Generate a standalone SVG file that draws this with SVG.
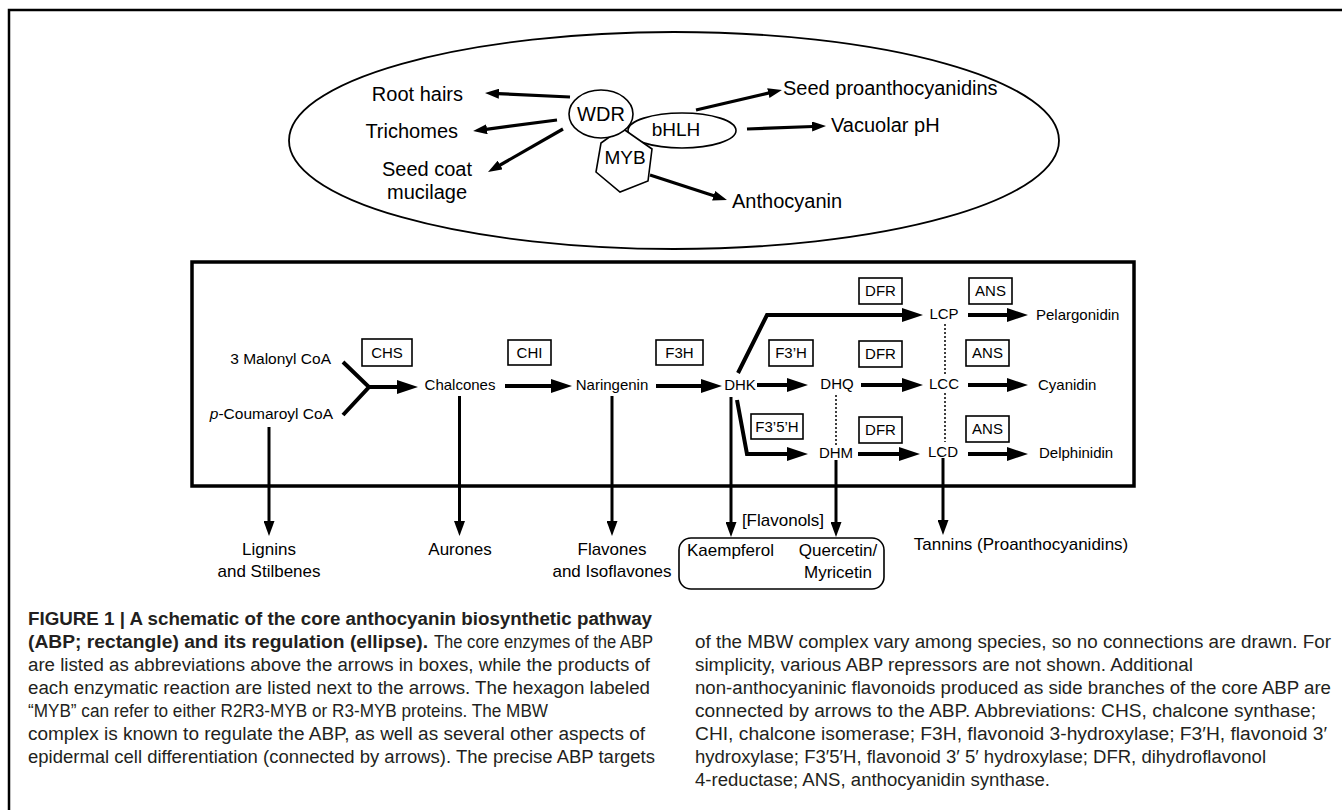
<svg xmlns="http://www.w3.org/2000/svg" width="1342" height="810" viewBox="0 0 1342 810">
<defs>
<style>
.t{font-family:"Liberation Sans",Arial,Helvetica,sans-serif;fill:#000}
.e{font-size:20px}
.p{font-size:15px}
.b{font-size:17px}
.enz{fill:none;stroke:#000;stroke-width:1.6}
.node{fill:#fff;stroke:#000;stroke-width:1.6}
.a3{fill:none;stroke:#000;stroke-width:3.2}
.a4{fill:none;stroke:#000;stroke-width:4}
.av{fill:none;stroke:#000;stroke-width:3}
.dot{fill:none;stroke:#000;stroke-width:1.5;stroke-dasharray:2 2}
.cap{font-family:"Liberation Sans",Arial,Helvetica,sans-serif;font-size:18px;fill:#231f20}
.capb{font-weight:bold}
</style>
<marker id="hs" markerUnits="userSpaceOnUse" markerWidth="14" markerHeight="10" refX="1" refY="5" orient="auto"><path d="M0,0 L14,5 L0,10 z" fill="#000"/></marker>
<marker id="hl" markerUnits="userSpaceOnUse" markerWidth="21" markerHeight="14" refX="1" refY="7" orient="auto"><path d="M0,0 L21,7 L0,14 z" fill="#000"/></marker>
<marker id="hv" markerUnits="userSpaceOnUse" markerWidth="15" markerHeight="11" refX="1" refY="5.5" orient="auto"><path d="M0,0 L15,5.5 L0,11 z" fill="#000"/></marker>
</defs>
<rect x="0" y="0" width="1342" height="810" fill="#fff"/>
<!-- outer frame -->
<path d="M9,810 L9,10 L1342,10" fill="none" stroke="#000" stroke-width="2.5"/>

<!-- regulation ellipse -->
<g id="regulation">
<ellipse cx="674" cy="140.5" rx="385" ry="108.5" fill="none" stroke="#000" stroke-width="1.8"/>
</g>

<g id="connectors">
<!-- ellipse arrows -->
<line class="a3" x1="570" y1="97" x2="498" y2="93.6" marker-end="url(#hs)"/>
<line class="a3" x1="557" y1="120" x2="486" y2="129.3" marker-end="url(#hs)"/>
<line class="a3" x1="563" y1="129" x2="499.3" y2="165.5" marker-end="url(#hs)"/>
<line class="a3" x1="696" y1="110" x2="769.3" y2="92.9" marker-end="url(#hs)"/>
<line class="a3" x1="747" y1="129" x2="813" y2="126.5" marker-end="url(#hs)"/>
<line class="a3" x1="650" y1="175" x2="714.6" y2="196" marker-end="url(#hs)"/>
<!-- pathway -->
<path class="a4" d="M343,362 L369,387 L343,415"/>
<line class="a4" x1="368" y1="387" x2="398" y2="387" marker-end="url(#hl)"/>
<line class="a4" x1="505" y1="386" x2="552" y2="386" marker-end="url(#hl)"/>
<line class="a4" x1="656" y1="386" x2="702" y2="386" marker-end="url(#hl)"/>
<polyline class="a4" points="738,373 767,315 903,315" marker-end="url(#hl)"/>
<line class="a4" x1="757" y1="385" x2="788" y2="385" marker-end="url(#hl)"/>
<line class="a4" x1="861" y1="385" x2="903" y2="385" marker-end="url(#hl)"/>
<line class="a4" x1="968" y1="385" x2="1008" y2="385" marker-end="url(#hl)"/>
<line class="a4" x1="968" y1="315" x2="1008" y2="315" marker-end="url(#hl)"/>
<polyline class="a4" points="737,400 747,454 788,454" marker-end="url(#hl)"/>
<line class="a4" x1="858" y1="454" x2="900" y2="454" marker-end="url(#hl)"/>
<line class="a4" x1="968" y1="454" x2="1008" y2="454" marker-end="url(#hl)"/>
<!-- dotted -->
<line class="dot" x1="945" y1="324" x2="945" y2="374"/>
<line class="dot" x1="945" y1="393" x2="945" y2="442"/>
<line class="dot" x1="836" y1="395" x2="836" y2="445"/>
<!-- vertical side branches -->
<line class="av" x1="269" y1="427" x2="269" y2="522" marker-end="url(#hv)"/>
<line class="av" x1="459.5" y1="396" x2="459.5" y2="522" marker-end="url(#hv)"/>
<line class="av" x1="612" y1="396" x2="612" y2="522" marker-end="url(#hv)"/>
<line class="av" x1="731" y1="397" x2="731" y2="523" marker-end="url(#hv)"/>
<line class="av" x1="836" y1="460" x2="836" y2="523" marker-end="url(#hv)"/>
<line class="av" x1="943" y1="458" x2="943" y2="521" marker-end="url(#hv)"/>
</g>

<g id="bHLH"><ellipse class="node" cx="682" cy="130.5" rx="54" ry="17.5"/><text class="t" x="676" y="136" font-size="19" text-anchor="middle">bHLH</text></g>
<g id="MYB"><polygon class="node" points="622,128 652,149 648,181 620,192 596,172 601,143"/><text class="t" x="625" y="164" font-size="19" text-anchor="middle">MYB</text></g>
<g id="WDR"><ellipse class="node" cx="601" cy="114" rx="32" ry="24"/><text class="t" x="601" y="121" font-size="20" text-anchor="middle">WDR</text></g>

<g id="reg-targets" class="t e">
<text x="463" y="101" text-anchor="end">Root hairs</text>
<text x="458" y="138" text-anchor="end">Trichomes</text>
<text x="427" y="176" text-anchor="middle">Seed coat</text>
<text x="427" y="199" text-anchor="middle">mucilage</text>
<text x="783" y="95">Seed proanthocyanidins</text>
<text x="831" y="132">Vacuolar pH</text>
<text x="732" y="208">Anthocyanin</text>
</g>

<!-- pathway rectangle -->
<g id="ABP"><rect x="192" y="262" width="942" height="224" fill="none" stroke="#000" stroke-width="3.5"/></g>

<g id="enzymes" class="t p">
<g id="CHS"><rect class="enz" x="362" y="339" width="50" height="27"/><text x="387" y="358" text-anchor="middle">CHS</text></g>
<g id="CHI"><rect class="enz" x="508" y="340" width="43" height="25"/><text x="529.5" y="358" text-anchor="middle">CHI</text></g>
<g id="F3H"><rect class="enz" x="656" y="340" width="47" height="25"/><text x="679.5" y="358" text-anchor="middle">F3H</text></g>
<g id="F3pH"><rect class="enz" x="769" y="340" width="44" height="26"/><text x="791" y="358" text-anchor="middle">F3’H</text></g>
<g id="DFR1"><rect class="enz" x="859" y="278" width="43" height="26"/><text x="880.5" y="296" text-anchor="middle">DFR</text></g>
<g id="ANS1"><rect class="enz" x="969" y="278" width="43" height="26"/><text x="990.5" y="296" text-anchor="middle">ANS</text></g>
<g id="DFR2"><rect class="enz" x="859" y="341" width="43" height="26"/><text x="880.5" y="359" text-anchor="middle">DFR</text></g>
<g id="ANS2"><rect class="enz" x="966" y="340" width="43" height="26"/><text x="987.5" y="358" text-anchor="middle">ANS</text></g>
<g id="F35H"><rect class="enz" x="751" y="414" width="52" height="25"/><text x="777" y="432" text-anchor="middle">F3’5’H</text></g>
<g id="DFR3"><rect class="enz" x="859" y="417" width="43" height="26"/><text x="880.5" y="435" text-anchor="middle">DFR</text></g>
<g id="ANS3"><rect class="enz" x="966" y="416" width="43" height="26"/><text x="987.5" y="434" text-anchor="middle">ANS</text></g>
</g>

<g id="metabolites" class="t p">
<text x="331" y="364" text-anchor="end" font-size="15.5">3 Malonyl CoA</text>
<text x="333" y="419" text-anchor="end" font-size="15.5"><tspan font-style="italic">p</tspan>-Coumaroyl CoA</text>
<text x="460" y="390" text-anchor="middle">Chalcones</text>
<text x="612" y="390" text-anchor="middle">Naringenin</text>
<text x="740" y="390" text-anchor="middle">DHK</text>
<text x="837" y="389" text-anchor="middle">DHQ</text>
<text x="944" y="389" text-anchor="middle">LCC</text>
<text x="1038" y="390">Cyanidin</text>
<text x="944" y="319" text-anchor="middle">LCP</text>
<text x="1036" y="320">Pelargonidin</text>
<text x="836" y="458" text-anchor="middle">DHM</text>
<text x="943" y="457" text-anchor="middle">LCD</text>
<text x="1039" y="458">Delphinidin</text>
</g>

<g id="side-products" class="t b">
<text x="269" y="555" text-anchor="middle">Lignins</text>
<text x="269" y="577" text-anchor="middle">and Stilbenes</text>
<text x="460" y="555" text-anchor="middle">Aurones</text>
<text x="612" y="555" text-anchor="middle">Flavones</text>
<text x="612" y="577" text-anchor="middle">and Isoflavones</text>
<text x="1021" y="550" text-anchor="middle">Tannins (Proanthocyanidins)</text>
</g>
<g id="flavonols" class="t b">
<text x="783" y="526" text-anchor="middle">[Flavonols]</text>
<rect x="679" y="538" width="205" height="51" rx="12" fill="none" stroke="#000" stroke-width="1.6"/>
<text x="687" y="556">Kaempferol</text>
<text x="838" y="556" text-anchor="middle">Quercetin/</text>
<text x="838" y="578" text-anchor="middle">Myricetin</text>
</g>

<g id="caption" class="cap">
<text class="capb" x="28" y="625" textLength="624" lengthAdjust="spacingAndGlyphs">FIGURE 1 | A schematic of the core anthocyanin biosynthetic pathway</text>
<text class="capb" x="28" y="648" textLength="400" lengthAdjust="spacingAndGlyphs">(ABP; rectangle) and its regulation (ellipse).</text>
<text x="434" y="648" textLength="219" lengthAdjust="spacingAndGlyphs">The core enzymes of the ABP</text>
<text x="28" y="671" textLength="622" lengthAdjust="spacingAndGlyphs">are listed as abbreviations above the arrows in boxes, while the products of</text>
<text x="28" y="694" textLength="622" lengthAdjust="spacingAndGlyphs">each enzymatic reaction are listed next to the arrows. The hexagon labeled</text>
<text x="28" y="717" textLength="520" lengthAdjust="spacingAndGlyphs">“MYB” can refer to either R2R3-MYB or R3-MYB proteins. The MBW</text>
<text x="28" y="740" textLength="617" lengthAdjust="spacingAndGlyphs">complex is known to regulate the ABP, as well as several other aspects of</text>
<text x="28" y="763" textLength="627" lengthAdjust="spacingAndGlyphs">epidermal cell differentiation (connected by arrows). The precise ABP targets</text>
<text x="695" y="648" textLength="636" lengthAdjust="spacingAndGlyphs">of the MBW complex vary among species, so no connections are drawn. For</text>
<text x="695" y="671" textLength="498" lengthAdjust="spacingAndGlyphs">simplicity, various ABP repressors are not shown. Additional</text>
<text x="695" y="694" textLength="636" lengthAdjust="spacingAndGlyphs">non-anthocyaninic flavonoids produced as side branches of the core ABP are</text>
<text x="695" y="717" textLength="621" lengthAdjust="spacingAndGlyphs">connected by arrows to the ABP. Abbreviations: CHS, chalcone synthase;</text>
<text x="695" y="740" textLength="632" lengthAdjust="spacingAndGlyphs">CHI, chalcone isomerase; F3H, flavonoid 3-hydroxylase; F3′H, flavonoid 3′</text>
<text x="695" y="763" textLength="571" lengthAdjust="spacingAndGlyphs">hydroxylase; F3′5′H, flavonoid 3′ 5′ hydroxylase; DFR, dihydroflavonol</text>
<text x="695" y="786" textLength="355" lengthAdjust="spacingAndGlyphs">4-reductase; ANS, anthocyanidin synthase.</text>
</g>
</svg>
